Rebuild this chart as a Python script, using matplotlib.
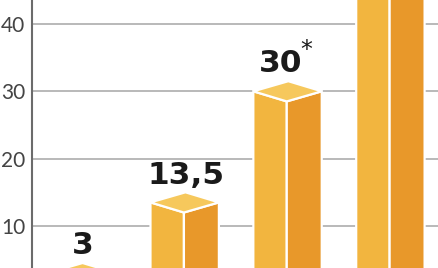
import matplotlib
matplotlib.use("Agg")
import matplotlib.pyplot as plt
from matplotlib.patches import Polygon

# dane
values = [3, 13.5, 30, 50]          # ostatni słupek wychodzi poza kadr
labels = ["3", "13,5", "30", ""]
starred = [False, False, True, False]
yticks = [10, 20, 30, 40]

c_front = "#F2B53F"
c_side = "#E8982A"
c_top = "#F6C85C"

fig = plt.figure(figsize=(4.39, 2.68), dpi=100)
ax = fig.add_axes([0, 0, 1, 1])
ax.set_xlim(-0.788, 3.48)
ax.set_ylim(3.76, 43.56)

x_axis = -0.477
left_w, right_w = 0.325, 0.34   # szerokość przedniej i bocznej ściany
d = 1.5                          # "głębokość" wieczka

# linie siatki
ax.hlines(yticks, x_axis, 3.48, color="#b3b3b3", lw=1.3, zorder=1)

for i, v in enumerate(values):
    l, r = i - left_w, i + right_w
    front = Polygon([(l, 0), (i, -d), (i, v - d), (l, v)], closed=True,
                    facecolor=c_front, edgecolor="white", lw=1.6, zorder=3)
    side = Polygon([(i, -d), (r, 0), (r, v), (i, v - d)], closed=True,
                   facecolor=c_side, edgecolor="white", lw=1.6, zorder=3)
    bx = l + (r - i)
    top = Polygon([(l, v), (i, v - d), (r, v), (bx, v + d)], closed=True,
                  facecolor=c_top, edgecolor="white", lw=1.6, zorder=4)
    for p in (front, side, top):
        ax.add_patch(p)
    if labels[i]:
        xt = i - 0.06 if starred[i] else i + 0.02
        t = ax.text(xt, v + d + 1.3, labels[i], ha="center", va="baseline",
                    fontsize=22.5, fontweight="bold", color="#1a1a1a", zorder=5)
        if starred[i]:
            ax.annotate("*", xy=(1, 1), xycoords=t, xytext=(-1.5, -9),
                        textcoords="offset points", ha="left", va="bottom",
                        fontsize=17, color="#1a1a1a")

# oś y
for s in ["top", "right", "bottom"]:
    ax.spines[s].set_visible(False)
ax.spines["left"].set_position(("data", x_axis))
ax.spines["left"].set_color("#6b6b6b")
ax.spines["left"].set_linewidth(1.5)
ax.spines["left"].set_zorder(6)
ax.set_yticks(yticks)
ax.set_yticklabels([str(t) for t in yticks], fontsize=15, color="#444444",
                   family="Lato")
ax.tick_params(axis="y", length=0, pad=5)
ax.set_xticks([])
ax.patch.set_alpha(0)

fig.savefig("out.png", dpi=100)
